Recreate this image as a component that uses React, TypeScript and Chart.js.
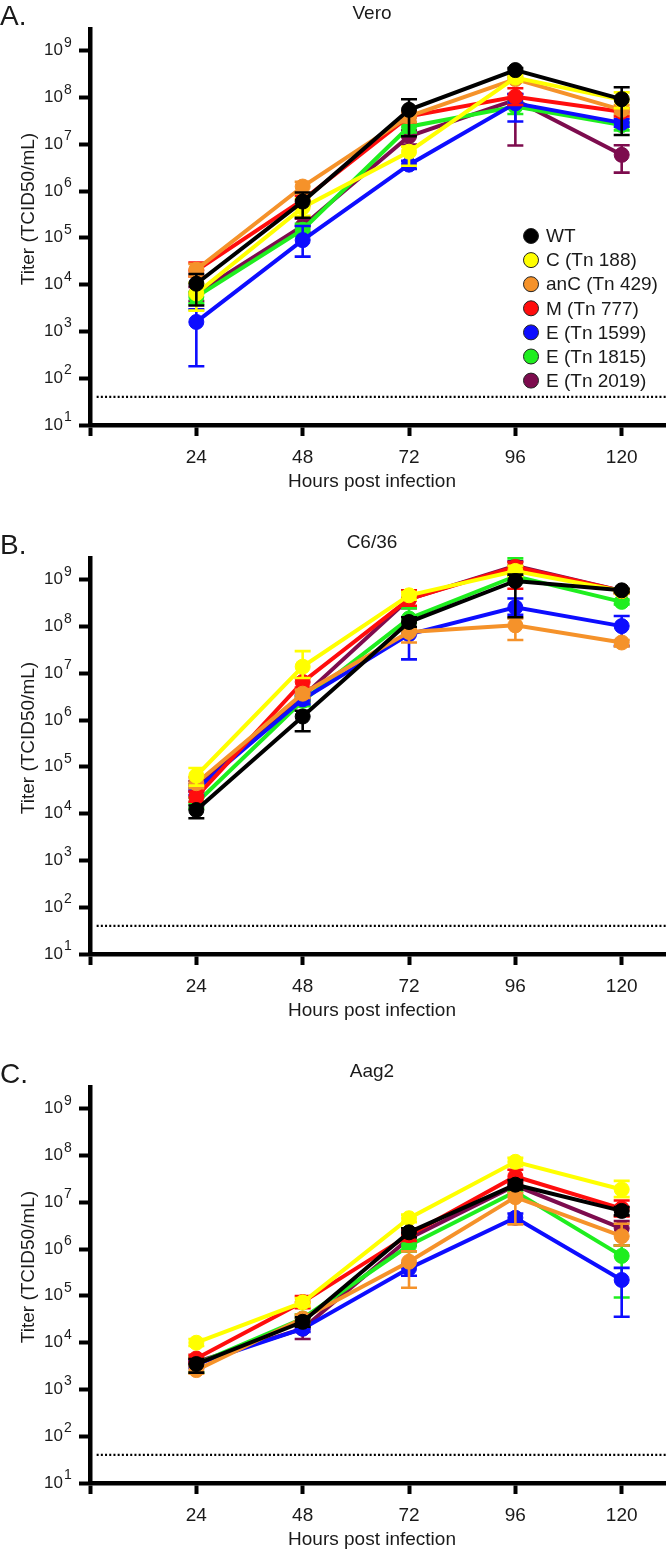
import React, { useEffect, useRef } from 'react';
import { Chart, registerables } from 'chart.js';

Chart.register(...registerables);

const FONT = '"Liberation Sans", Arial, Helvetica, sans-serif';

// ---- shared categories / labels ----
const HOURS = [24, 48, 72, 96, 120];
const X_TICK_LABELS = ['24', '48', '72', '96', '120'];
const Y_TICKS = [1e1, 1e2, 1e3, 1e4, 1e5, 1e6, 1e7, 1e8, 1e9];
const Y_EXPONENTS = ['1', '2', '3', '4', '5', '6', '7', '8', '9'];
const SERIES_LABELS = ['WT', 'C (Tn 188)', 'anC (Tn 429)', 'M (Tn 777)', 'E (Tn 1599)', 'E (Tn 1815)', 'E (Tn 2019)'];
const SERIES_COLORS = ['#000000', '#ffff00', '#f5922a', '#ff0d0d', '#0d0dff', '#1fee1f', '#7d0c4e'];
const DETECTION_LIMIT = 40;

// ---- Vero ----
const VERO_MEAN = [
  [1.05e4, 6.0e5, 5.5e7, 3.9e8, 9.3e7],
  [6.5e3, 4.5e5, 7.0e6, 2.7e8, 9.0e7],
  [2.1e4, 1.26e6, 4.0e7, 2.5e8, 5.5e7],
  [2.0e4, 6.5e5, 4.0e7, 1.05e8, 5.0e7],
  [1.6e3, 9.0e4, 3.7e6, 7.6e7, 2.9e7],
  [5.5e3, 1.5e5, 2.4e7, 6.5e7, 2.6e7],
  [6.5e3, 1.8e5, 1.5e7, 9.0e7, 6.0e6],
];
const VERO_HI = [
  [1.7e4, 9.4e5, 9.3e7, 4.3e8, 1.67e8],
  [1.1e4, 7.0e5, 9.0e6, 3.2e8, 1.3e8],
  [2.8e4, 1.6e6, 5.0e7, 2.8e8, 7.0e7],
  [3.0e4, 8.0e5, 5.0e7, 1.6e8, 6.0e7],
  [3.0e3, 1.8e5, 4.5e6, 1.2e8, 3.5e7],
  [7.0e3, 2.0e5, 3.0e7, 8.0e7, 3.0e7],
  [9.0e3, 2.6e5, 2.0e7, 1.2e8, 9.6e6],
];
const VERO_LO = [
  [3.6e3, 2.7e5, 1.5e7, 3.5e8, 1.6e7],
  [2.8e3, 3.0e5, 3.5e6, 2.2e8, 6.0e7],
  [1.5e4, 9.0e5, 3.0e7, 2.2e8, 4.5e7],
  [1.5e4, 5.0e5, 3.0e7, 7.0e7, 4.0e7],
  [1.8e2, 4.0e4, 3.0e6, 3.1e7, 2.4e7],
  [4.0e3, 1.1e5, 1.8e7, 4.5e7, 2.0e7],
  [4.5e3, 1.3e5, 1.0e7, 9.5e6, 2.5e6],
];

// ---- C6/36 ----
const C636_MEAN = [
  [1.2e4, 1.2e6, 1.26e8, 9.5e8, 6.0e8],
  [6.5e4, 1.4e7, 4.7e8, 1.56e9, 5.8e8],
  [4.5e4, 3.7e6, 7.7e7, 1.07e8, 4.6e7],
  [2.3e4, 6.6e6, 3.9e8, 1.9e9, 5.8e8],
  [3.3e4, 2.8e6, 6.9e7, 2.6e8, 1.03e8],
  [1.7e4, 2.6e6, 1.5e8, 1.2e9, 3.4e8],
  [3.9e4, 3.2e6, 3.9e8, 2.0e9, 5.8e8],
];
const C636_HI = [
  [1.5e4, 1.6e6, 1.6e8, 1.3e9, 6.5e8],
  [9.5e4, 3.0e7, 5.5e8, 2.0e9, 6.2e8],
  [6.0e4, 4.5e6, 9.0e7, 1.5e8, 5.2e7],
  [3.0e4, 8.0e6, 6.0e8, 2.4e9, 6.2e8],
  [4.2e4, 3.5e6, 9.0e7, 4.0e8, 1.7e8],
  [2.2e4, 3.2e6, 2.5e8, 2.9e9, 3.8e8],
  [5.0e4, 4.0e6, 6.0e8, 2.5e9, 6.2e8],
];
const C636_LO = [
  [8.0e3, 5.8e5, 1.0e8, 1.6e8, 5.5e8],
  [4.0e4, 8.0e6, 3.8e8, 1.2e9, 5.2e8],
  [3.5e4, 3.0e6, 4.6e7, 5.2e7, 3.8e7],
  [1.8e4, 5.0e6, 2.8e8, 6.5e8, 5.2e8],
  [2.5e4, 2.2e6, 2.0e7, 1.8e8, 3.9e7],
  [1.3e4, 2.0e6, 1.2e8, 9.0e8, 3.0e8],
  [3.0e4, 2.5e6, 2.5e8, 1.5e9, 5.2e8],
];

// ---- Aag2 ----
const AAG2_MEAN = [
  [3.5e3, 2.8e4, 2.3e6, 2.4e7, 6.6e6],
  [1.0e4, 7.3e4, 4.6e6, 7.4e7, 1.9e7],
  [2.6e3, 3.3e4, 5.4e5, 1.3e7, 1.9e6],
  [4.6e3, 7.4e4, 2.0e6, 3.6e7, 7.4e6],
  [3.5e3, 2.0e4, 3.9e5, 4.7e6, 2.2e5],
  [3.5e3, 3.3e4, 1.2e6, 1.7e7, 7.2e5],
  [3.9e3, 2.0e4, 1.7e6, 2.3e7, 2.8e6],
];
const AAG2_HI = [
  [4.5e3, 3.5e4, 2.8e6, 3.0e7, 8.0e6],
  [1.2e4, 9.0e4, 5.5e6, 9.0e7, 2.9e7],
  [3.2e3, 4.0e4, 9.0e5, 1.6e7, 3.5e6],
  [5.5e3, 1.0e5, 2.6e6, 5.0e7, 1.1e7],
  [4.2e3, 2.4e4, 5.0e5, 5.8e6, 4.0e5],
  [5.0e3, 4.0e4, 1.5e6, 2.0e7, 1.2e6],
  [4.5e3, 2.5e4, 2.2e6, 2.8e7, 4.0e6],
];
const AAG2_LO = [
  [2.3e3, 2.2e4, 1.8e6, 1.9e7, 5.3e6],
  [8.5e3, 6.0e4, 3.8e6, 6.0e7, 1.3e7],
  [2.2e3, 2.7e4, 1.5e5, 3.4e6, 1.2e6],
  [3.8e3, 5.5e4, 1.5e6, 2.6e7, 5.0e6],
  [2.9e3, 1.7e4, 2.7e5, 3.6e6, 3.6e4],
  [2.3e3, 2.7e4, 9.0e5, 1.4e7, 9.3e4],
  [3.3e3, 1.2e4, 1.2e6, 1.9e7, 1.2e6],
];

type PanelProps = {
  top: number;
  height: number;
  letter: string;
  title: string;
  mean: number[][];
  hi: number[][];
  lo: number[][];
  legend: boolean;
};

function Panel({ top, height, letter, title, mean, hi, lo, legend }: PanelProps) {
  const ref = useRef<HTMLCanvasElement | null>(null);

  useEffect(() => {
    const canvas = ref.current;
    if (!canvas) return;
    const nSeries = SERIES_LABELS.length;

    const decor = {
      id: 'decor',
      beforeDatasetDraw(chart: any, args: any) {
        const ds = args.index;
        if (ds >= nSeries) return;
        const ctx = chart.ctx;
        const xs = chart.scales.x;
        const ys = chart.scales.y;
        ctx.save();
        ctx.strokeStyle = SERIES_COLORS[ds];
        ctx.lineWidth = 2.6;
        const cap = 8;
        HOURS.forEach((h, i) => {
          const x = xs.getPixelForValue(h);
          const yH = ys.getPixelForValue(hi[ds][i]);
          const yL = ys.getPixelForValue(lo[ds][i]);
          ctx.beginPath();
          ctx.moveTo(x, yH);
          ctx.lineTo(x, yL);
          ctx.moveTo(x - cap, yH);
          ctx.lineTo(x + cap, yH);
          ctx.moveTo(x - cap, yL);
          ctx.lineTo(x + cap, yL);
          ctx.stroke();
        });
        ctx.restore();
      },
      afterDraw(chart: any) {
        const ctx = chart.ctx;
        const xs = chart.scales.x;
        const ys = chart.scales.y;
        ctx.save();
        ctx.fillStyle = '#1a1a1a';
        // y tick labels 10^n
        Y_TICKS.forEach((v, i) => {
          const y = ys.getPixelForValue(v);
          ctx.font = `17px ${FONT}`;
          ctx.textAlign = 'right';
          ctx.textBaseline = 'alphabetic';
          ctx.fillText('10', 63, y + 4.5);
          ctx.font = `14px ${FONT}`;
          ctx.textAlign = 'left';
          ctx.fillText(Y_EXPONENTS[i], 64, y - 4);
        });
        // x tick labels
        ctx.font = `19px ${FONT}`;
        ctx.textAlign = 'center';
        ctx.textBaseline = 'alphabetic';
        HOURS.forEach((h, i) => {
          ctx.fillText(X_TICK_LABELS[i], xs.getPixelForValue(h), 462.5);
        });
        // x title
        ctx.fillText('Hours post infection', 372, 487);
        // chart title
        ctx.fillText(title, 372, 18.5);
        // y title
        ctx.save();
        ctx.translate(33.5, 209);
        ctx.rotate(-Math.PI / 2);
        ctx.textAlign = 'center';
        ctx.fillText('Titer (TCID50/mL)', 0, 0);
        ctx.restore();
        // panel letter
        ctx.font = `28px ${FONT}`;
        ctx.textAlign = 'left';
        ctx.fillText(letter, 0, 25);
        // legend
        if (legend) {
          ctx.font = `19px ${FONT}`;
          ctx.textBaseline = 'middle';
          SERIES_LABELS.forEach((lab, i) => {
            const y = 236 + i * 24.1;
            ctx.beginPath();
            ctx.arc(531, y, 7.5, 0, Math.PI * 2);
            ctx.fillStyle = SERIES_COLORS[i];
            ctx.fill();
            ctx.lineWidth = 1;
            ctx.strokeStyle = '#222';
            ctx.stroke();
            ctx.fillStyle = '#1a1a1a';
            ctx.fillText(lab, 546, y + 1);
          });
        }
        ctx.restore();
      },
    };

    const datasets: any[] = SERIES_LABELS.map((lab, s) => ({
      label: lab,
      data: HOURS.map((h, i) => ({ x: h, y: mean[s][i] })),
      borderColor: SERIES_COLORS[s],
      backgroundColor: SERIES_COLORS[s],
      pointBackgroundColor: SERIES_COLORS[s],
      pointBorderColor: SERIES_COLORS[s],
      borderWidth: 4,
      pointRadius: 7.5,
      pointBorderWidth: 1,
      tension: 0,
      clip: false,
    }));
    datasets.push({
      label: 'LOD',
      data: [
        { x: 1.5, y: DETECTION_LIMIT },
        { x: 130, y: DETECTION_LIMIT },
      ],
      borderColor: '#000',
      borderWidth: 2.2,
      borderDash: [2, 2.2],
      pointRadius: 0,
      order: 10,
    });

    const chart = new Chart(canvas, {
      type: 'line',
      data: { datasets },
      plugins: [decor],
      options: {
        responsive: false,
        animation: false,
        events: [],
        devicePixelRatio: 1,
        layout: { autoPadding: false, padding: { top: 29, left: 0, right: 0, bottom: 0 } },
        plugins: {
          legend: { display: false },
          tooltip: { enabled: false },
          title: { display: false },
        },
        scales: {
          x: {
            type: 'linear',
            min: 0,
            max: 130,
            afterBuildTicks: (s: any) => {
              s.ticks = [0, ...HOURS].map((v) => ({ value: v }));
            },
            afterFit: (s: any) => {
              s.height = height - 425;
            },
            ticks: { display: false },
            grid: {
              drawOnChartArea: false,
              drawTicks: true,
              tickLength: 11,
              tickWidth: 4,
              tickColor: '#000',
            },
            border: { display: true, color: '#000', width: 4.5 },
          },
          y: {
            type: 'logarithmic',
            min: 10,
            max: 2.95e9,
            afterBuildTicks: (s: any) => {
              s.ticks = Y_TICKS.map((v) => ({ value: v }));
            },
            afterFit: (s: any) => {
              s.width = 90;
            },
            ticks: { display: false },
            grid: {
              drawOnChartArea: false,
              drawTicks: true,
              tickLength: 11,
              tickWidth: 4,
              tickColor: '#000',
            },
            border: { display: true, color: '#000', width: 4.5 },
          },
        },
      } as any,
    });
    return () => chart.destroy();
  }, [top, height, letter, title, mean, hi, lo, legend]);

  return (
    <canvas
      ref={ref}
      width={666}
      height={height}
      style={{ position: 'absolute', left: 0, top, width: 666, height, display: 'block' }}
    />
  );
}

export default function App() {
  return (
    <div
      style={{
        position: 'absolute',
        left: 0,
        top: 0,
        width: 666,
        height: 1553,
        overflow: 'hidden',
        background: '#fff',
      }}
    >
      <Panel top={0} height={529} letter="A." title="Vero" mean={VERO_MEAN} hi={VERO_HI} lo={VERO_LO} legend />
      <Panel top={529} height={529} letter="B." title="C6/36" mean={C636_MEAN} hi={C636_HI} lo={C636_LO} legend={false} />
      <Panel top={1058} height={495} letter="C." title="Aag2" mean={AAG2_MEAN} hi={AAG2_HI} lo={AAG2_LO} legend={false} />
    </div>
  );
}
